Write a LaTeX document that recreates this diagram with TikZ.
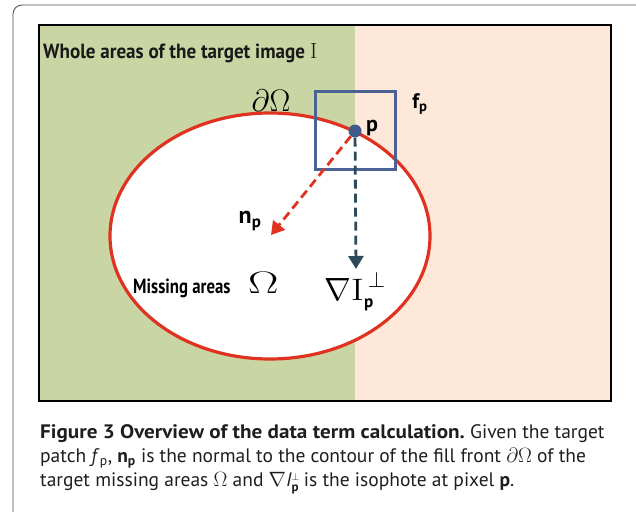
\documentclass[tikz,border=0pt]{standalone}
\usepackage{amsmath}
\usepackage{graphicx}
\usepackage{fontspec}
\setsansfont{PT Sans}
\usetikzlibrary{arrows.meta}
\definecolor{greenbg}{RGB}{201,214,163}
\definecolor{peachbg}{RGB}{253,232,218}
\definecolor{redline}{RGB}{224,50,32}
\definecolor{bluesq}{RGB}{74,99,148}
\definecolor{bluedot}{RGB}{65,90,140}
\definecolor{slate}{RGB}{46,74,90}
\definecolor{captxt}{RGB}{30,30,30}
\newcommand{\isophote}{$\nabla$\textit{I}\rlap{\raisebox{0.26em}{\fontsize{10}{10}\selectfont$\perp$}}\raisebox{-0.28em}{\fontsize{13}{13}\selectfont\bfseries p}}
\tikzset{
  lbl/.style={inner sep=0pt, font=\sffamily\bfseries},
  capline/.style={anchor=base west, inner sep=0pt, text=captxt, font=\sffamily\fontsize{19.5}{24}\selectfont},
  dasharrow/.style={line width=2.8pt, dash pattern=on 9pt off 5pt, -{Triangle[length=13pt,width=15pt]}},
}
\begin{document}
\begin{tikzpicture}[x=1pt,y=-1pt]
\useasboundingbox (0,0) rectangle (636,511);
\clip (0,0) rectangle (636,511);
% outer rounded frame
\draw[line width=0.8pt, black!70, rounded corners=9pt] (13,5) rectangle (660,530);
% background halves
\fill[greenbg] (39,25) rectangle (355,401);
\fill[peachbg] (355,25) rectangle (611,401);
\draw[line width=2.2pt, black] (39,25) rectangle (611,401);
% missing area
\draw[redline, line width=3.2pt, fill=white] (270,236) ellipse [x radius=160, y radius=123];
% patch
\draw[bluesq, line width=3pt] (315,91) rectangle (395,169);
\node[circle, fill=bluedot, minimum size=13pt, inner sep=0pt] (p) at (355,131) {};
\coordinate (nend) at (271,235);
\coordinate (iend) at (356,269);
\draw[dasharrow, redline] (p) -- (nend);
\draw[dasharrow, slate] (p) -- (iend);
% labels
\node[anchor=base west, inner sep=0pt, font=\sffamily\bfseries\fontsize{20.5}{22}\selectfont, text=black!90] (title) at (43,58) {\scalebox{0.93}[1]{Whole areas of the target image}\ \fontsize{22}{22}\selectfont$\mathrm{I}$};
\node[anchor=base, inner sep=0pt, font=\fontsize{20}{20}\selectfont] (dO) at (271,111) {\scalebox{1.5}{$\partial\Omega$}};
\node[lbl, font=\sffamily\bfseries\fontsize{21}{24}\selectfont] (fp) at (420,104) {f\textsubscript{p}};
\node[lbl, font=\sffamily\bfseries\fontsize{22}{24}\selectfont] (plbl) at (372,128) {p};
\node[lbl, font=\sffamily\bfseries\fontsize{24}{24}\selectfont] (np) at (250,221) {n\textsubscript{p}};
\node[anchor=base west, inner sep=0pt, font=\fontsize{20}{20}\selectfont] (grad) at (324,300) {\scalebox{1.55}{$\nabla\scalebox{1.3}[1]{$\mathrm{I}$}_{\text{\sffamily\bfseries\fontsize{11}{11}\selectfont p}}^{\,\perp}$}};
\node[anchor=base west, inner sep=0pt, font=\sffamily\bfseries\fontsize{20.5}{22}\selectfont] (miss) at (133,293) {\scalebox{0.82}[1]{Missing areas}};
\node[anchor=base west, inner sep=0pt, font=\fontsize{20}{20}\selectfont] (omega) at (248,293) {\scalebox{2.2}[1.5]{$\Omega$}};
% caption
\node[capline] (c1) at (40,438) {\scalebox{1.085}[1]{\bfseries Figure 3 Overview of the data term calculation.} Given the target};
\node[capline] (c2) at (40,462) {patch \textit{f}\textsubscript{p}, \textbf{n\textsubscript{p}} is the normal to the contour of the fill front $\partial\Omega$ of the};
\node[capline] (c3) at (40,486) {target missing areas $\Omega$ and \isophote\ is the isophote at pixel \textbf{p}.};
\end{tikzpicture}
\end{document}
